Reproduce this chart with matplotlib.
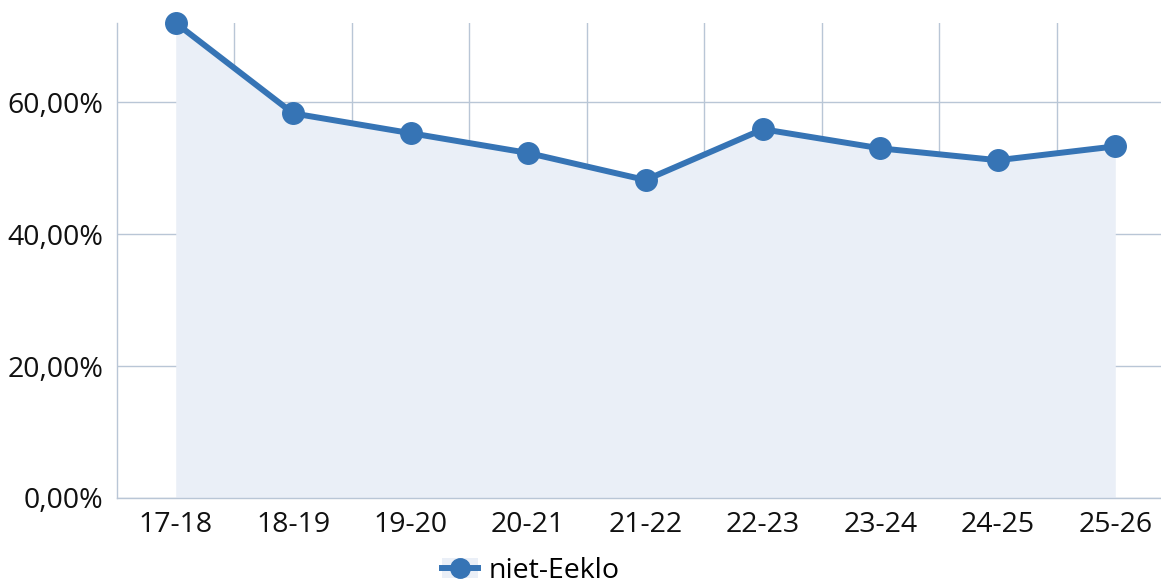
import matplotlib
matplotlib.use("Agg")
import matplotlib.pyplot as plt
from matplotlib.ticker import FuncFormatter, MultipleLocator
from matplotlib.lines import Line2D
from matplotlib.patches import Patch

categories = ["17-18", "18-19", "19-20", "20-21", "21-22", "22-23", "23-24", "24-25", "25-26"]
values = [72.0, 58.3, 55.3, 52.3, 48.2, 55.9, 53.0, 51.2, 53.3]
series_name = "niet-Eeklo"

line_color = "#3674b5"
fill_color = "#eaeff7"
grid_color = "#b9c6d6"

plt.rcParams['font.family'] = ['Open Sans', 'DejaVu Sans']

W, H = 1161, 586
fig = plt.figure(figsize=(W / 100, H / 100), dpi=100)
left, right, top, bottom = 117, 1174, 23, 498
ax = fig.add_axes([left / W, (H - bottom) / H, (right - left) / W, (bottom - top) / H])

x = list(range(len(categories)))
ax.fill_between(x, values, 0, color=fill_color, linewidth=0, zorder=1)
ax.plot(x, values, color=line_color, linewidth=4.3, marker="o", markersize=15.5,
        zorder=3, solid_capstyle="round", clip_on=False)

ax.set_xlim(-0.5, len(categories) - 0.5)
ax.set_ylim(0, 72)
ax.yaxis.set_major_locator(MultipleLocator(20))
ax.yaxis.set_major_formatter(FuncFormatter(lambda v, p: f"{v:.2f}".replace(".", ",") + "%"))
ax.set_xticks(x)
ax.set_xticklabels(categories)
ax.set_xticks([i + 0.5 for i in x[:-1]], minor=True)

ax.grid(True, axis="y", which="major", color=grid_color, linewidth=1, zorder=0)
ax.grid(True, axis="x", which="minor", color=grid_color, linewidth=1, zorder=0)
ax.set_axisbelow(True)

for s in ["top", "right"]:
    ax.spines[s].set_visible(False)
for s in ["left", "bottom"]:
    ax.spines[s].set_color(grid_color)
    ax.spines[s].set_linewidth(1)

ax.tick_params(axis="both", which="both", length=0, labelsize=20.5, colors="#111111")
ax.tick_params(axis="y", pad=10)
ax.tick_params(axis="x", pad=9)

handle = (Patch(facecolor=fill_color, edgecolor="none"),
          Line2D([], [], color=line_color, linewidth=4.3, marker="o", markersize=14))
leg = fig.legend([handle], [series_name], loc="center", bbox_to_anchor=(531 / W, 1 - 571 / H),
                 frameon=False, fontsize=20.5, handlelength=1.25, handletextpad=0.4,
                 borderpad=0)
fig.savefig("out.png", dpi=100)
